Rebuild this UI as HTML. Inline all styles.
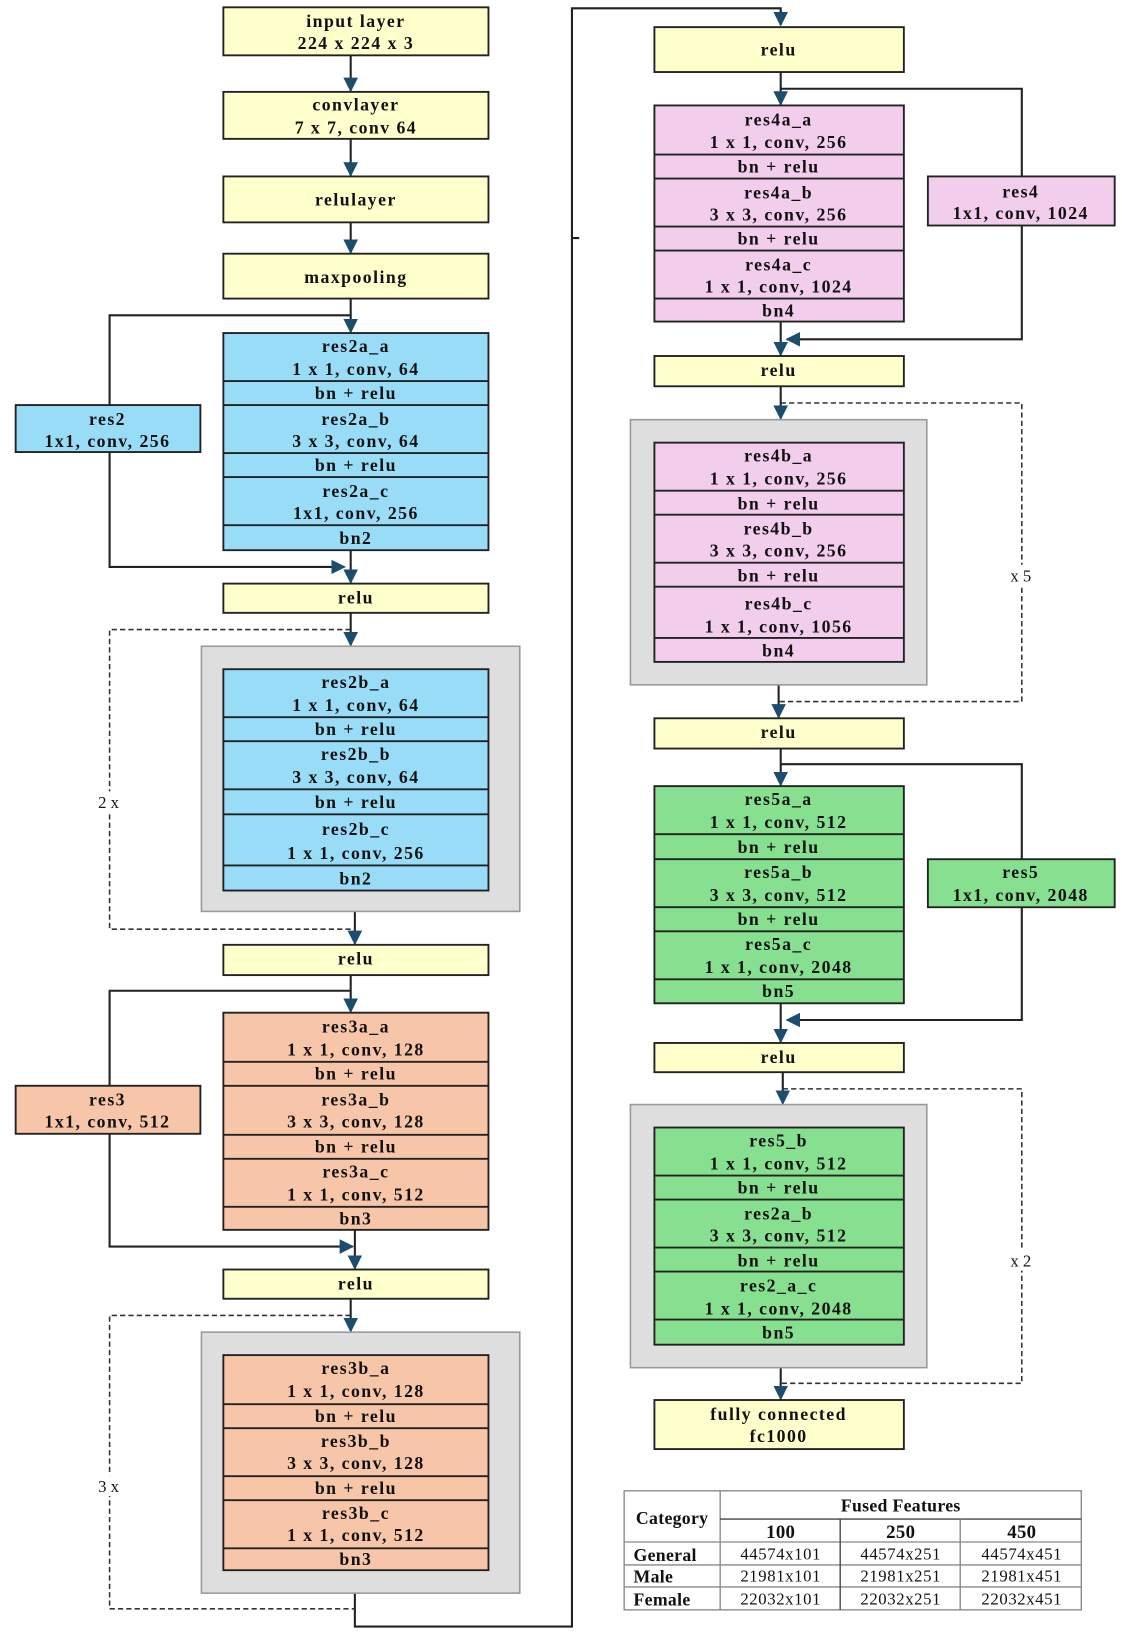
<!DOCTYPE html>
<html><head><meta charset="utf-8"><style>
html,body{margin:0;padding:0;background:#fff;}
svg{display:block;}
text{font-family:"Liberation Serif",serif;font-weight:bold;font-size:17px;fill:#111;text-anchor:middle;letter-spacing:1.4px;}
.t{font-weight:normal;font-size:16px;letter-spacing:0.6px;}
.n{font-weight:normal;font-size:16px;letter-spacing:0;}
.tb{letter-spacing:0.3px;}
</style></head><body>
<svg width="1122" height="1637" viewBox="0 0 1075 1568" preserveAspectRatio="none" xmlns="http://www.w3.org/2000/svg">
<defs>
<marker id="a" viewBox="0 0 10 10" refX="9" refY="5" markerWidth="7" markerHeight="7" orient="auto"><path d="M0,0 L10,5 L0,10 z" fill="#1b4d6e"/></marker>
</defs>
<g stroke="#222" stroke-width="2" fill="none">
<line x1="336" y1="53" x2="336" y2="87" marker-end="url(#a)"/>
<line x1="336" y1="133" x2="336" y2="168" marker-end="url(#a)"/>
<line x1="336" y1="213" x2="336" y2="242" marker-end="url(#a)"/>
<line x1="336" y1="286" x2="336" y2="318" marker-end="url(#a)"/>
<polyline points="336,302 105,302 105,543 330,543" marker-end="url(#a)"/>
<line x1="336" y1="527" x2="336" y2="558" marker-end="url(#a)"/>
<line x1="336" y1="587" x2="336" y2="618" marker-end="url(#a)"/>
<line x1="340" y1="873" x2="340" y2="904" marker-end="url(#a)"/>
<line x1="336" y1="934" x2="336" y2="969" marker-end="url(#a)"/>
<polyline points="336,949 105,949 105,1194 338,1194" marker-end="url(#a)"/>
<line x1="340" y1="1178" x2="340" y2="1215" marker-end="url(#a)"/>
<line x1="336" y1="1244" x2="336" y2="1275" marker-end="url(#a)"/>
<polyline points="340,1526 340,1558 548,1558 548,228 555,228 548,228 548,8 748,8 748,22" />
<line x1="748" y1="10" x2="748" y2="24" marker-end="url(#a)"/>
<line x1="748" y1="69" x2="748" y2="100" marker-end="url(#a)"/>
<polyline points="748,85 979,85 979,325 754,325" marker-end="url(#a)"/>
<line x1="748" y1="308" x2="748" y2="340" marker-end="url(#a)"/>
<line x1="748" y1="370" x2="748" y2="401" marker-end="url(#a)"/>
<line x1="746" y1="656" x2="746" y2="687" marker-end="url(#a)"/>
<line x1="748" y1="717" x2="748" y2="752" marker-end="url(#a)"/>
<polyline points="748,732 979,732 979,977 754,977" marker-end="url(#a)"/>
<line x1="748" y1="961" x2="748" y2="998" marker-end="url(#a)"/>
<line x1="750" y1="1027" x2="750" y2="1057" marker-end="url(#a)"/>
<line x1="748" y1="1310" x2="748" y2="1340" marker-end="url(#a)"/>
</g>
<g stroke="#333" stroke-width="1.5" fill="none" stroke-dasharray="5,3">
<polyline points="336,603 105,603 105,890 340,890"/>
<polyline points="336,1260 105,1260 105,1541 340,1541"/>
<polyline points="748,386 979,386 979,672 746,672"/>
<polyline points="750,1043 979,1043 979,1325 748,1325"/>
</g>
<g fill="#dedede" stroke="#999" stroke-width="1.5">
<rect x="193" y="619" width="305" height="254"/>
<rect x="193" y="1276" width="305" height="250"/>
<rect x="604" y="402" width="284" height="254"/>
<rect x="604" y="1058" width="284" height="252"/>
</g>
<g fill="#ffffcc" stroke="#222" stroke-width="1.8">
<rect x="214" y="7" width="254" height="46"/>
<rect x="214" y="88" width="254" height="45"/>
<rect x="214" y="169" width="254" height="44"/>
<rect x="214" y="243" width="254" height="43"/>
<rect x="214" y="559" width="254" height="28"/>
<rect x="214" y="905" width="254" height="29"/>
<rect x="214" y="1216" width="254" height="28"/>
<rect x="627" y="26" width="239" height="43"/>
<rect x="627" y="341" width="239" height="29"/>
<rect x="627" y="688" width="239" height="29"/>
<rect x="627" y="999" width="239" height="28"/>
<rect x="627" y="1341" width="239" height="47"/>
</g>
<g>
<text x="341" y="26">input layer</text><text x="341" y="47">224 x 224 x 3</text>
<text x="341" y="106">convlayer</text><text x="341" y="128">7 x 7, conv 64</text>
<text x="341" y="197">relulayer</text>
<text x="341" y="271">maxpooling</text>
<text x="341" y="578">relu</text>
<text x="341" y="924">relu</text>
<text x="341" y="1235">relu</text>
<text x="746" y="53">relu</text>
<text x="746" y="360">relu</text>
<text x="746" y="707">relu</text>
<text x="746" y="1018">relu</text>
<text x="746" y="1360">fully connected</text><text x="746" y="1381">fc1000</text>
</g>
<g stroke="#222" stroke-width="1.8">
<g fill="#99dcf8">
<rect x="214" y="319" width="254" height="208"/>
<rect x="214" y="641" width="254" height="212"/>
<rect x="15" y="388" width="177" height="45"/>
</g>
<g fill="#f7c6a9">
<rect x="214" y="970" width="254" height="208"/>
<rect x="214" y="1298" width="254" height="206"/>
<rect x="15" y="1040" width="177" height="46"/>
</g>
<g fill="#f2cdec">
<rect x="627" y="101" width="239" height="207"/>
<rect x="627" y="424" width="239" height="210"/>
<rect x="889" y="169" width="179" height="47"/>
</g>
<g fill="#86e08f">
<rect x="627" y="753" width="239" height="208"/>
<rect x="627" y="1080" width="239" height="208"/>
<rect x="889" y="823" width="179" height="46"/>
</g>
<path fill="none" d="M214,365H468M214,388H468M214,434H468M214,457H468M214,503H468
M214,687H468M214,710H468M214,756H468M214,780H468M214,829H468
M214,1017H468M214,1040H468M214,1087H468M214,1110H468M214,1156H468
M214,1345H468M214,1368H468M214,1414H468M214,1437H468M214,1483H468
M627,148H866M627,171H866M627,217H866M627,240H866M627,286H866
M627,470H866M627,493H866M627,539H866M627,562H866M627,611H866
M627,799H866M627,823H866M627,869H866M627,892H866M627,938H866
M627,1126H866M627,1149H866M627,1195H866M627,1218H866M627,1264H866"/>
</g>
<g>
<text x="103" y="407">res2</text><text x="103" y="428">1x1, conv, 256</text>
<text x="103" y="1059">res3</text><text x="103" y="1080">1x1, conv, 512</text>
<text x="978" y="189">res4</text><text x="978" y="210">1x1, conv, 1024</text>
<text x="978" y="841">res5</text><text x="978" y="863">1x1, conv, 2048</text>
<text x="341" y="337">res2a_a</text><text x="341" y="359">1 x 1, conv, 64</text>
<text x="341" y="382">bn + relu</text>
<text x="341" y="407">res2a_b</text><text x="341" y="428">3 x 3, conv, 64</text>
<text x="341" y="451">bn + relu</text>
<text x="341" y="476">res2a_c</text><text x="341" y="497">1x1, conv, 256</text>
<text x="341" y="521">bn2</text>
<text x="341" y="659">res2b_a</text><text x="341" y="681">1 x 1, conv, 64</text>
<text x="341" y="704">bn + relu</text>
<text x="341" y="728">res2b_b</text><text x="341" y="750">3 x 3, conv, 64</text>
<text x="341" y="774">bn + relu</text>
<text x="341" y="800">res2b_c</text><text x="341" y="823">1 x 1, conv, 256</text>
<text x="341" y="847">bn2</text>
<text x="341" y="989">res3a_a</text><text x="341" y="1011">1 x 1, conv, 128</text>
<text x="341" y="1034">bn + relu</text>
<text x="341" y="1059">res3a_b</text><text x="341" y="1080">3 x 3, conv, 128</text>
<text x="341" y="1104">bn + relu</text>
<text x="341" y="1128">res3a_c</text><text x="341" y="1150">1 x 1, conv, 512</text>
<text x="341" y="1173">bn3</text>
<text x="341" y="1316">res3b_a</text><text x="341" y="1338">1 x 1, conv, 128</text>
<text x="341" y="1362">bn + relu</text>
<text x="341" y="1386">res3b_b</text><text x="341" y="1407">3 x 3, conv, 128</text>
<text x="341" y="1431">bn + relu</text>
<text x="341" y="1455">res3b_c</text><text x="341" y="1476">1 x 1, conv, 512</text>
<text x="341" y="1499">bn3</text>
<text x="746" y="120">res4a_a</text><text x="746" y="142">1 x 1, conv, 256</text>
<text x="746" y="165">bn + relu</text>
<text x="746" y="190">res4a_b</text><text x="746" y="211">3 x 3, conv, 256</text>
<text x="746" y="234">bn + relu</text>
<text x="746" y="259">res4a_c</text><text x="746" y="280">1 x 1, conv, 1024</text>
<text x="746" y="303">bn4</text>
<text x="746" y="442">res4b_a</text><text x="746" y="464">1 x 1, conv, 256</text>
<text x="746" y="488">bn + relu</text>
<text x="746" y="512">res4b_b</text><text x="746" y="533">3 x 3, conv, 256</text>
<text x="746" y="557">bn + relu</text>
<text x="746" y="584">res4b_c</text><text x="746" y="606">1 x 1, conv, 1056</text>
<text x="746" y="629">bn4</text>
<text x="746" y="771">res5a_a</text><text x="746" y="793">1 x 1, conv, 512</text>
<text x="746" y="817">bn + relu</text>
<text x="746" y="841">res5a_b</text><text x="746" y="863">3 x 3, conv, 512</text>
<text x="746" y="886">bn + relu</text>
<text x="746" y="910">res5a_c</text><text x="746" y="932">1 x 1, conv, 2048</text>
<text x="746" y="955">bn5</text>
<text x="746" y="1098">res5_b</text><text x="746" y="1120">1 x 1, conv, 512</text>
<text x="746" y="1143">bn + relu</text>
<text x="746" y="1168">res2a_b</text><text x="746" y="1189">3 x 3, conv, 512</text>
<text x="746" y="1213">bn + relu</text>
<text x="746" y="1237">res2_a_c</text><text x="746" y="1259">1 x 1, conv, 2048</text>
<text x="746" y="1282">bn5</text>
<rect x="88" y="758" width="34" height="20" fill="#fff"/><text class="n" x="104" y="774">2 x</text>
<rect x="88" y="1413" width="34" height="20" fill="#fff"/><text class="n" x="104" y="1429">3 x</text>
<rect x="962" y="541" width="34" height="20" fill="#fff"/><text class="n" x="978" y="557">x 5</text>
<rect x="962" y="1197" width="34" height="20" fill="#fff"/><text class="n" x="978" y="1213">x 2</text>
</g>
<g stroke="#888" stroke-width="1.3" fill="none">
<rect x="598" y="1428" width="438" height="114"/>
<line x1="690" y1="1428" x2="690" y2="1542"/>
<line x1="690" y1="1455" x2="1036" y2="1455" stroke="#444"/>
<line x1="598" y1="1477" x2="1036" y2="1477"/>
<line x1="598" y1="1499" x2="1036" y2="1499"/>
<line x1="598" y1="1520" x2="1036" y2="1520"/>
<line x1="805" y1="1455" x2="805" y2="1542" stroke="#444"/>
<line x1="920" y1="1455" x2="920" y2="1542"/>
</g>
<g>
<text class="tb" x="644" y="1460">Category</text>
<text class="tb" x="863" y="1448">Fused Features</text>
<text class="tb" x="748" y="1473" style="font-size:18px">100</text><text class="tb" x="863" y="1473" style="font-size:18px">250</text><text class="tb" x="979" y="1473" style="font-size:18px">450</text>
<text class="tb" x="607" y="1495" style="text-anchor:start">General</text>
<text class="tb" x="607" y="1516" style="text-anchor:start">Male</text>
<text class="tb" x="607" y="1538" style="text-anchor:start">Female</text>
<text class="t" x="748" y="1494">44574x101</text><text class="t" x="863" y="1494">44574x251</text><text class="t" x="979" y="1494">44574x451</text>
<text class="t" x="748" y="1515">21981x101</text><text class="t" x="863" y="1515">21981x251</text><text class="t" x="979" y="1515">21981x451</text>
<text class="t" x="748" y="1537">22032x101</text><text class="t" x="863" y="1537">22032x251</text><text class="t" x="979" y="1537">22032x451</text>
</g>
</svg>
</body></html>
